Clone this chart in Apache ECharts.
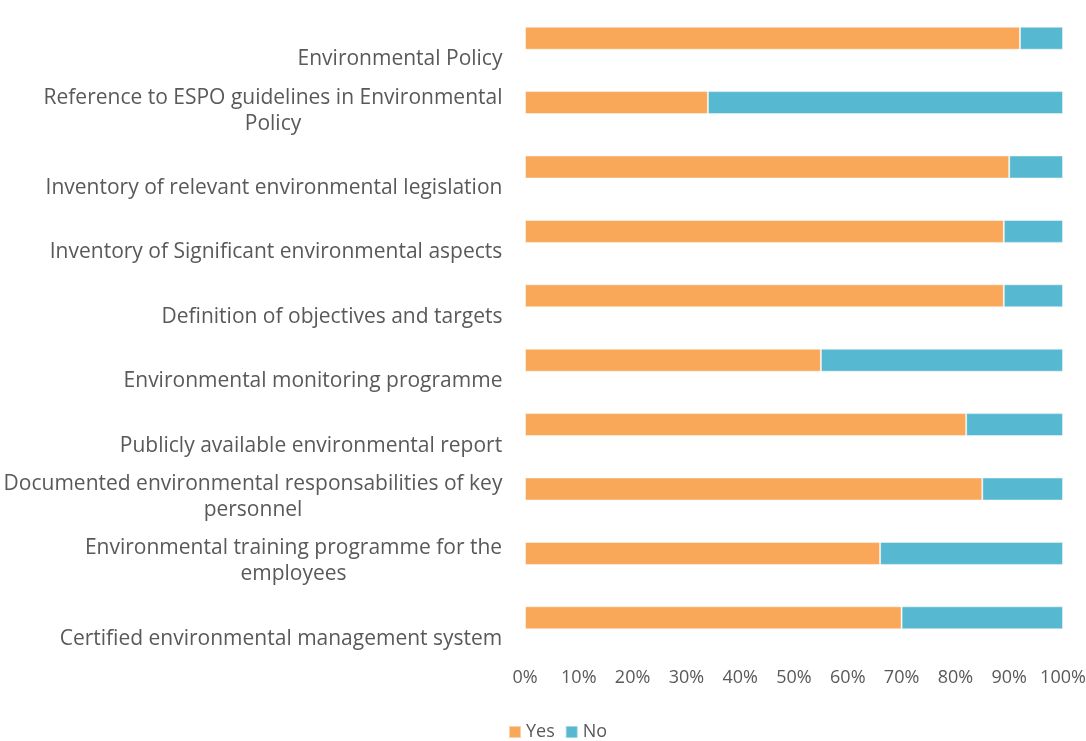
<!DOCTYPE html>
<html>
<head>
<meta charset="utf-8">
<script src="https://cdn.jsdelivr.net/npm/echarts@6/dist/echarts.min.js"></script>
<style>
  html, body { margin: 0; padding: 0; background: #ffffff; }
  #chart { width: 1086px; height: 741px; }
</style>
</head>
<body>
<div id="chart"></div>
<script>
// Environmental management elements, top to bottom
const categories = [
  'Environmental Policy',
  'Reference to ESPO guidelines in Environmental\nPolicy',
  'Inventory of relevant environmental legislation',
  'Inventory of Significant environmental aspects',
  'Definition of objectives and targets',
  'Environmental monitoring programme',
  'Publicly available environmental report',
  'Documented environmental responsabilities of key\npersonnel',
  'Environmental training programme for the\nemployees',
  'Certified environmental management system'
];

// Share of respondents (%)
const yesValues = [92, 34, 90, 89, 89, 55, 82, 85, 66, 70];
const noValues  = [8, 66, 10, 11, 11, 45, 18, 15, 34, 30];

const seriesNames = ['Yes', 'No'];
const colors = ['#F9A85A', '#57B9D1'];

const FONT = '"Open Sans", sans-serif';
const TEXT = '#595959';
const CAT_SIZE = 21;

// Multi-line category labels are centred line by line inside a right-aligned block:
// each label gets its own rich style whose width is its longest line.
const measureCtx = document.createElement('canvas').getContext('2d');
measureCtx.font = CAT_SIZE + 'px ' + FONT;
const labelRich = {};
categories.forEach(function (c, i) {
  const w = Math.max.apply(null, c.split('\n').map(function (s) { return measureCtx.measureText(s).width; }));
  labelRich['c' + i] = {
    width: Math.ceil(w) + 1,
    align: 'center',
    fontSize: CAT_SIZE,
    lineHeight: 26,
    color: TEXT,
    fontFamily: FONT
  };
});

const chart = echarts.init(document.getElementById('chart'), null, { renderer: 'canvas' });

const gridLeft = 525, gridRight = 23, gridTop = 6, gridHeight = 644;
const labelShift = 34;

chart.setOption({
  animation: false,
  textStyle: { fontFamily: FONT },
  color: colors,
  legend: {
    data: seriesNames,
    bottom: -5,
    left: 503,
    icon: 'rect',
    itemWidth: 12,
    itemHeight: 12,
    itemGap: 10,
    textStyle: { fontSize: 18, color: TEXT, fontFamily: FONT }
  },
  grid: [
    { left: gridLeft, right: gridRight, top: gridTop, height: gridHeight, outerBoundsMode: 'none' },
    // carries the category labels, sitting slightly below the bar rows
    { left: gridLeft, right: gridRight, top: gridTop + labelShift, height: gridHeight, outerBoundsMode: 'none' }
  ],
  xAxis: [
    {
      gridIndex: 0,
      type: 'value',
      min: 0,
      max: 100,
      interval: 10,
      axisLine: { show: false },
      axisTick: { show: false },
      splitLine: { show: false },
      axisLabel: {
        formatter: '{value}%',
        fontSize: 18,
        color: TEXT,
        fontFamily: FONT,
        margin: 19
      }
    },
    { gridIndex: 1, type: 'value', min: 0, max: 100, show: false }
  ],
  yAxis: [
    {
      gridIndex: 0,
      type: 'category',
      inverse: true,
      data: categories,
      axisLine: { show: false },
      axisTick: { show: false },
      axisLabel: { show: false }
    },
    {
      gridIndex: 1,
      type: 'category',
      inverse: true,
      data: categories,
      axisLine: { show: false },
      axisTick: { show: false },
      axisLabel: {
        show: true,
        interval: 0,
        margin: 22,
        fontSize: CAT_SIZE,
        lineHeight: 26,
        color: TEXT,
        fontFamily: FONT,
        align: 'right',
        verticalAlign: 'bottom',
        rich: labelRich,
        formatter: function (value, index) {
          return value.split('\n').map(function (s) { return '{c' + index + '|' + s + '}'; }).join('\n');
        }
      }
    }
  ],
  series: [
    {
      name: seriesNames[0],
      type: 'bar',
      stack: 'total',
      xAxisIndex: 0,
      yAxisIndex: 0,
      barWidth: 23,
      data: yesValues,
      itemStyle: { color: colors[0], borderColor: 'rgba(255,255,255,0.45)', borderWidth: 1 }
    },
    {
      name: seriesNames[1],
      type: 'bar',
      stack: 'total',
      xAxisIndex: 0,
      yAxisIndex: 0,
      barWidth: 23,
      data: noValues,
      itemStyle: { color: colors[1], borderColor: 'rgba(255,255,255,0.45)', borderWidth: 1 }
    }
  ]
});
</script>
</body>
</html>
